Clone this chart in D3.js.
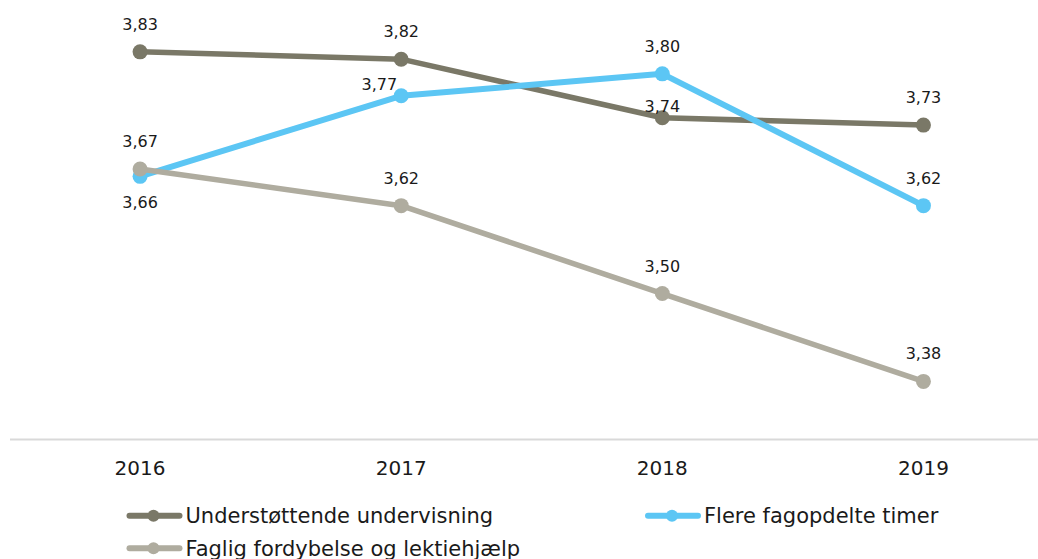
<!DOCTYPE html>
<html>
<head>
<meta charset="utf-8">
<script src="https://cdn.jsdelivr.net/npm/d3@7"></script>
<style>
  html, body { margin: 0; padding: 0; background: #fff; }
  svg { display: block; }
  text { font-family: "DejaVu Sans", Verdana, sans-serif; fill: #1a1a1a; }
</style>
</head>
<body>
<svg id="chart" width="1038" height="559"></svg>
<script>
// Years on the category axis
const years = ["2016", "2017", "2018", "2019"];

// Series names and their average scores per year
const seriesNames = [
  "Understøttende undervisning",
  "Flere fagopdelte timer",
  "Faglig fordybelse og lektiehjælp"
];
const understottende = [3.83, 3.82, 3.74, 3.73];
const fagopdelte = [3.66, 3.77, 3.80, 3.62];
const fordybelse = [3.67, 3.62, 3.50, 3.38];

const seriesColors = ["#7a7867", "#5cc6f4", "#afac9f"];

const series = [
  { name: seriesNames[0], values: understottende, color: seriesColors[0], width: 5.5 },
  { name: seriesNames[1], values: fagopdelte, color: seriesColors[1], width: 6 },
  { name: seriesNames[2], values: fordybelse, color: seriesColors[2], width: 5.5 }
];

// Label nudges where the default (centred above the point) would collide
const labelNudge = {
  "0-2": { dx: 0, dy: -6 },
  "1-0": { dx: 0, dy: 32 },
  "1-1": { dx: -21, dy: -6 }
};

const svg = d3.select("#chart");

const x = d3.scaleBand().domain(years).range([9.5, 1054]).padding(0);
const y = d3.scaleLinear().domain([3.3, 3.9]).range([440, 0.6]);
const cx = d => x(d) + x.bandwidth() / 2;

// Category axis: thin grey baseline plus year labels
const axis = d3.axisBottom(x).tickSize(0).tickPadding(0);
const axisG = svg.append("g").attr("transform", "translate(0,439)").call(axis);
axisG.select(".domain").attr("stroke", "#d9d9d9").attr("stroke-width", 2);
axisG.selectAll(".tick text")
  .attr("y", 36)
  .attr("dy", 0)
  .style("font-size", "20px")
  .style("font-family", "'DejaVu Sans', Verdana, sans-serif")
  .attr("fill", "#1a1a1a");

const line = d3.line()
  .x((d, i) => cx(years[i]))
  .y(d => y(d));

const groups = svg.selectAll("g.series")
  .data(series)
  .join("g")
  .attr("class", "series");

groups.append("path")
  .attr("d", d => line(d.values))
  .attr("fill", "none")
  .attr("stroke", d => d.color)
  .attr("stroke-width", d => d.width)
  .attr("stroke-linejoin", "round");

groups.selectAll("circle")
  .data(d => d.values.map(v => ({ v, color: d.color })))
  .join("circle")
  .attr("cx", (d, i) => cx(years[i]))
  .attr("cy", d => y(d.v))
  .attr("r", 7.5)
  .attr("fill", d => d.color);

// Value labels
const fmt = v => d3.format(".2f")(v).replace(".", ",");
series.forEach((s, si) => {
  s.values.forEach((v, i) => {
    const n = labelNudge[si + "-" + i] || { dx: 0, dy: -22 };
    svg.append("text")
      .attr("x", cx(years[i]) + n.dx)
      .attr("y", y(v) + n.dy)
      .attr("text-anchor", n.dx < 0 ? "end" : "middle")
      .attr("dx", n.dx < 0 ? 17 : 0)
      .style("font-size", "16px")
      .text(fmt(v));
  });
});

// Legend: two columns, wrapping to a second row
const legendCols = [126.5, 645];
const legendRows = [515.7, 548.3];
series.forEach((s, i) => {
  const lx = legendCols[i % 2];
  const ly = legendRows[Math.floor(i / 2)];
  const g = svg.append("g").attr("transform", `translate(${lx},${ly})`);
  g.append("line")
    .attr("x1", 3).attr("x2", 53)
    .attr("y1", 0).attr("y2", 0)
    .attr("stroke", s.color)
    .attr("stroke-width", 6)
    .attr("stroke-linecap", "round");
  g.append("circle").attr("cx", 27).attr("cy", 0).attr("r", 6).attr("fill", s.color);
  g.append("text")
    .attr("x", 59)
    .attr("y", 7.5)
    .style("font-size", "21px")
    .text(s.name);
});
</script>
</body>
</html>
